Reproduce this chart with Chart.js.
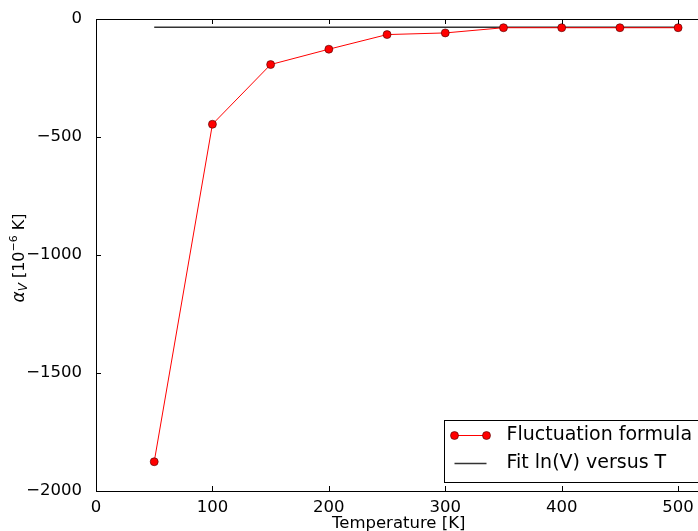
<!DOCTYPE html>
<html>
<head>
<meta charset="utf-8">
<script src="https://cdn.jsdelivr.net/npm/chart.js@4/dist/chart.umd.min.js"></script>
<style>
html,body{margin:0;padding:0;background:#fff;overflow:hidden}
#wrap{width:706px;height:531px;position:relative}
</style>
</head>
<body>
<div id="wrap"><canvas id="c"></canvas></div>
<script>
const TEMPS = [50,100,150,200,250,300,350,400,450,500];
const FLUCT = [-1876,-446,-193,-128,-66,-59,-37,-37,-37,-37];
const FIT_T = [50,500];
const FIT_V = [-35,-35];
const X_TICKS = [0,100,200,300,400,500];
const SERIES_NAMES = ['Fluctuation formula','Fit ln(V) versus T'];
const X_LABEL = 'Temperature [K]';

const FONT = "'DejaVu Sans', sans-serif";
const minus = v => String(v).replace('-', '\u2212');

// frame, inner ticks, y title and legend (matplotlib look)
const decor = {
  id:'decor',
  afterDraw(chart){
    const {ctx, chartArea:a, scales:{x,y}} = chart;
    ctx.save();
    ctx.strokeStyle = '#000'; ctx.lineWidth = 1;
    ctx.strokeRect(Math.round(a.left)+0.5, Math.round(a.top)+0.5, Math.round(a.right-a.left)+10, Math.round(a.bottom-a.top));
    ctx.beginPath();
    x.ticks.forEach(t=>{
      const px = Math.round(x.getPixelForValue(t.value))+0.5;
      ctx.moveTo(px,a.bottom); ctx.lineTo(px,a.bottom-5);
      ctx.moveTo(px,a.top); ctx.lineTo(px,a.top+5);
    });
    y.ticks.forEach(t=>{
      const py = Math.round(y.getPixelForValue(t.value))+0.5;
      ctx.moveTo(a.left,py); ctx.lineTo(a.left+5,py);
    });
    ctx.stroke();

    // y title: alpha_V [10^-6 K]
    ctx.translate(20,(a.top+a.bottom)/2 + 3);
    ctx.rotate(-Math.PI/2);
    ctx.fillStyle = '#000'; ctx.textBaseline = 'middle'; ctx.textAlign = 'left';
    const parts = [
      {t:'\u03b1', f:'italic 17px '+FONT, dy:0},
      {t:'V', f:'italic 12px '+FONT, dy:4},
      {t:' [10', f:'16px '+FONT, dy:0},
      {t:'\u22126', f:'11px '+FONT, dy:-6},
      {t:' K]', f:'16px '+FONT, dy:0}
    ];
    let w = 0;
    parts.forEach(p=>{ctx.font=p.f; w += ctx.measureText(p.t).width;});
    let cx = -w/2;
    parts.forEach(p=>{ctx.font=p.f; ctx.fillText(p.t,cx,p.dy); cx += ctx.measureText(p.t).width;});
    ctx.restore();

    // legend
    ctx.save();
    ctx.font = '19px '+FONT;
    const tw = Math.max(...SERIES_NAMES.map(s=>ctx.measureText(s).width));
    const bw = 10 + 32 + 20 + tw + 8, bh = 62;
    const bx = Math.round(a.left + 348) + 0.5, by = Math.round(a.bottom - 9 - bh) + 0.5;
    ctx.fillStyle = '#fff'; ctx.fillRect(bx,by,bw,bh);
    ctx.strokeStyle = '#000'; ctx.lineWidth = 1; ctx.strokeRect(bx,by,bw,bh);
    const r1 = by + 15, r2 = by + 43, sx = bx + 10;
    ctx.strokeStyle = '#ff0000'; ctx.beginPath(); ctx.moveTo(sx,r1); ctx.lineTo(sx+32,r1); ctx.stroke();
    [sx, sx+32].forEach(px=>{
      ctx.beginPath(); ctx.arc(px,r1,4,0,Math.PI*2);
      ctx.fillStyle='#ff0000'; ctx.fill(); ctx.strokeStyle='#400'; ctx.lineWidth=0.6; ctx.stroke();
    });
    ctx.strokeStyle = '#333'; ctx.lineWidth = 1.5;
    ctx.beginPath(); ctx.moveTo(sx,r2); ctx.lineTo(sx+32,r2); ctx.stroke();
    ctx.fillStyle = '#000'; ctx.textBaseline = 'middle'; ctx.textAlign = 'left';
    ctx.fillText(SERIES_NAMES[0], sx+52, r1);
    ctx.fillText(SERIES_NAMES[1], sx+52, r2);
    ctx.restore();
  }
};

new Chart(document.getElementById('c'), {
  type:'line',
  data:{
    datasets:[
      {label:SERIES_NAMES[1], data:FIT_T.map((t,i)=>({x:t,y:FIT_V[i]})), borderColor:'#333', borderWidth:1.5, pointRadius:0, order:2},
      {label:SERIES_NAMES[0], data:TEMPS.map((t,i)=>({x:t,y:FLUCT[i]})), borderColor:'#ff0000', borderWidth:1,
       pointRadius:4, pointBackgroundColor:'#ff0000', pointBorderColor:'#400', pointBorderWidth:0.6, order:1}
    ]
  },
  options:{
    responsive:true, maintainAspectRatio:false, animation:false,
    layout:{padding:{top:19,left:0,right:0,bottom:0}},
    plugins:{legend:{display:false}, tooltip:{enabled:false}},
    scales:{
      x:{type:'linear', min:0, max:520,
        grid:{display:false}, border:{display:false},
        ticks:{padding:-1, color:'#000', font:{family:FONT,size:16.5}, maxRotation:0, callback:v=>minus(v)},
        afterBuildTicks:s=>{s.ticks = X_TICKS.map(v=>({value:v}));},
        title:{display:true, text:X_LABEL, color:'#000', font:{family:FONT,size:16.5}, padding:{top:0,bottom:-3}},
        afterFit:s=>{s.height = 40;}
      },
      y:{type:'linear', min:-2000, max:0,
        grid:{display:false}, border:{display:false},
        ticks:{stepSize:500, padding:6, color:'#000', font:{family:FONT,size:16.5}, callback:v=>minus(v)},
        afterFit:s=>{s.width = 96;}
      }
    }
  },
  plugins:[decor]
});
</script>
</body>
</html>
